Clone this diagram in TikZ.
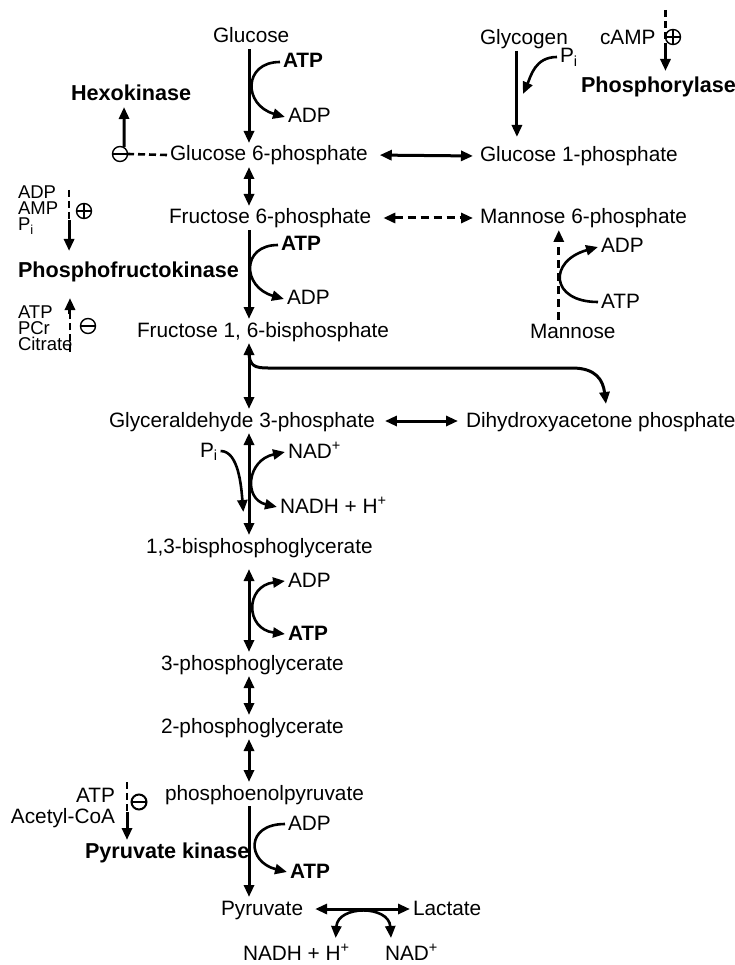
\documentclass[tikz,border=0pt]{standalone}
\usepackage{fontspec}
\setmainfont{Liberation Sans}
\usetikzlibrary{arrows.meta,calc}

\tikzset{
  lbl/.style={inner sep=0pt,outer sep=3pt,text height=15pt,text depth=3pt,
    anchor=base west,font=\fontsize{20.8}{24}\selectfont},
  lblb/.style={lbl,font=\fontsize{20.8}{24}\selectfont\bfseries},
  stk/.style={inner sep=0pt,outer sep=0pt,anchor=north west,align=left,
    font=\fontsize{18.5}{16}\selectfont},
  enz/.style={lbl,font=\fontsize{21.6}{24}\selectfont\bfseries},
  rxn/.style={line width=3pt},
  side/.style={line width=2.6pt},
  reg/.style={line width=2.6pt,dash pattern=on 7pt off 4pt},
  inhib/.style={circle,draw,line width=1.4pt,minimum size=15pt,inner sep=0pt,
    path picture={\draw[line width=1.4pt] (path picture bounding box.west) -- (path picture bounding box.east);}},
  activ/.style={circle,draw,line width=1.4pt,minimum size=15pt,inner sep=0pt,
    path picture={\draw[line width=1.4pt] (path picture bounding box.west) -- (path picture bounding box.east)
      (path picture bounding box.north) -- (path picture bounding box.south);}}
}

\begin{document}
\begin{tikzpicture}[x=1pt,y=-1pt,>={Triangle[length=12pt,width=10pt]}]
\useasboundingbox (0,0) rectangle (735,965);
\coordinate (ax) at (249,0);
% main pathway
\node[lbl] (glc) at (210,43) {Glucose};
\node[lbl] (g6p) at (167,161) {Glucose 6-phosphate};
\node[lbl] (f6p) at (166,224) {Fructose 6-phosphate};
\node[lbl] (f16) at (134,337) {Fructose 1, 6-bisphosphate};
\node[lbl] (g3p) at (106,427) {Glyceraldehyde 3-phosphate};
\node[lbl] (bpg) at (143,553) {1,3-bisphosphoglycerate};
\node[lbl] (pg3) at (158,670) {3-phosphoglycerate};
\node[lbl] (pg2) at (158,733) {2-phosphoglycerate};
\node[lbl] (pep) at (162,800) {phosphoenolpyruvate};
\node[lbl] (pyr) at (218,915) {Pyruvate};
% side branches
\node[lbl] (glyc) at (477,45) {Glycogen};
\node[lbl] (g1p) at (477,162) {Glucose 1-phosphate};
\node[lbl] (m6p) at (477,224) {Mannose 6-phosphate};
\node[lbl] (man) at (527,338) {Mannose};
\node[lbl] (dhap) at (463,427) {Dihydroxyacetone phosphate};
\node[lbl] (lac) at (410,915) {Lactate};
% cofactors
\node[lblb] (atp1) at (280,68) {ATP};
\node[lbl] (adp1) at (285,123) {ADP};
\node[lbl] (pi1) at (557,63) {P\textsubscript{i}};
\node[lblb] (atp2) at (278,251) {ATP};
\node[lbl] (adp2) at (284,305) {ADP};
\node[lbl] (adpm) at (598,253) {ADP};
\node[lbl] (atpm) at (598,308) {ATP};
\node[lbl] (pi2) at (197,457) {P\textsubscript{i}};
\node[lbl] (nad1) at (285,458) {NAD\textsuperscript{+}};
\node[lbl] (nadh1) at (277,513) {NADH + H\textsuperscript{+}};
\node[lbl] (adp3) at (285,587) {ADP};
\node[lblb] (atp3) at (285,640) {ATP};
\node[lbl] (adp4) at (285,830) {ADP};
\node[lblb] (atp4) at (287,878) {ATP};
\node[lbl] (nadh2) at (240,960) {NADH + H\textsuperscript{+}};
\node[lbl] (nad2) at (382,960) {NAD\textsuperscript{+}};
% enzymes and effectors
\node[enz] (hk) at (68,101) {Hexokinase};
\node[enz] (phos) at (578,93) {Phosphorylase};
\node[enz] (pfk) at (15,278) {Phosphofructokinase};
\node[enz] (pk) at (82,858) {Pyruvate kinase};
\node[lbl] (camp) at (597,45) {cAMP};
\node[stk] (pfkup) at (18,186) {ADP\\AMP\\P\textsubscript{i}};
\node[stk] (pfkdn) at (18,306) {ATP\\PCr\\Citrate};
\node[lbl,anchor=base east] (atpC) at (118,802) {ATP};
\node[lbl,anchor=base east] (acoa) at (118,823) {Acetyl-CoA};
\node[inhib] (hkneg) at (120,154) {};
\node[activ] (campplus) at (673,37) {};
\node[activ] (pfkplus) at (84,211) {};
\node[inhib] (pfkneg) at (88,326) {};
\node[inhib,line width=2pt] (pkneg) at (139,802) {};

% main arrows
\draw[rxn,->] (glc.south -| ax) -- (g6p.north -| ax);
\draw[rxn,<->] (g6p.south -| ax) -- (f6p.north -| ax);
\draw[rxn,->] (f6p.south -| ax) -- (f16.north -| ax);
\draw[rxn,<->] (f16.south -| ax) -- (g3p.north -| ax);
\draw[rxn,<->] (g3p.south -| ax) -- (bpg.north -| ax);
\draw[rxn,<->,shorten <=10pt] (bpg.south -| ax) -- (pg3.north -| ax);
\draw[rxn,<->] (pg3.south -| ax) -- (pg2.north -| ax);
\draw[rxn,<->] (pg2.south -| ax) -- (pep.north -| ax);
\draw[rxn,->] (pep.south -| ax) -- (pyr.north -| ax);
% side arrows
\coordinate (gx) at ($(glyc.south)+(-7,0)$);
\draw[rxn,->,shorten >=7pt] (gx) -- (g1p.north -| gx);
\draw[rxn,<->,shorten <=9pt,shorten >=4pt] (g6p.east) -- (g1p.west);
\draw[rxn,<->,dash pattern=on 8pt off 5pt,shorten <=9pt,shorten >=4pt] (f6p.east) -- (m6p.west);
\draw[rxn,<->,shorten <=7pt,shorten >=5pt] (g3p.east) -- (dhap.west);
\draw[rxn,<->,shorten <=9pt] (pyr.east) -- (lac.west);
\coordinate (mx) at ($(man.north)+(-14,0)$);
\draw[rxn,->,dash pattern=on 8pt off 5pt] (mx) -- (m6p.south -| mx);
\coordinate (brA) at ($(f16.south -| ax)+(0,9)$);
\coordinate (brD) at ($(dhap.north west)+(143,-5)$);
\draw[rxn,->] (brA) .. controls +(0,14) and (255,368) .. (268,368) -- (572,368)
  .. controls (596,368) and (603,380) .. (brD);

% cofactor curves
\draw[side,->] (atp1.west) .. controls +(-37,0) and +(-42,-12) .. (adp1.west);
\draw[side,->] (atp2.west) .. controls +(-37,0) and +(-42,-12) .. (adp2.west);
\draw[side,->] (atpm.west) .. controls +(-48,0) and +(-50,14) .. (adpm.west);
\coordinate (pi1end) at ($(glyc.south)+(-1,43)$);
\draw[side,->] (pi1.west) .. controls +(-22,0) and +(8,-18) .. (pi1end);
\coordinate (pi2end) at ($(bpg.north)+(-16,-23)$);
\draw[side,->] (pi2.east) .. controls +(18,0) and +(-2,-25) .. (pi2end);
\draw[side,<->] (nad1.west) .. controls +(-38,8) and +(-34,-8) .. (nadh1.west);
\draw[side,<->] (adp3.west) .. controls +(-40,5) and +(-40,-5) .. (adp3.west |- atp3.west);
\draw[side,->] (adp4.west) .. controls +(-40,0) and +(-40,-10) .. (atp4.west);
\coordinate (arcL) at ($(nadh2.north east)+(-17,-4)$);
\coordinate (arcR) at ($(nad2.north west)+(9,-4)$);
\draw[side,<->] (arcL) .. controls +(2,-33) and +(-2,-33) .. (arcR);

% regulation
\draw[reg] (g6p.west) -- (hkneg.east);
\draw[rxn,->] (hkneg.60) -- ($(hk.south)+(-7,0)$);
\coordinate (campA) at ($(camp.east)+(7,-29)$);
\coordinate (campB) at ($(camp.east)+(7,8)$);
\draw[reg] (campA) -- (campB);
\draw[rxn,->,shorten >=4pt] (campB) -- (phos.north -| campB);
\coordinate (pfkA) at ($(pfkup.north east)+(11,4)$);
\coordinate (pfkB) at ($(pfkA)+(0,30)$);
\draw[reg] (pfkA) -- (pfkB);
\draw[rxn,->,shorten >=9pt] (pfkB) -- (pfk.north -| pfkB);
\coordinate (pfkC) at ($(pfkdn.north east)+(-2.5,8)$);
\coordinate (pfkD) at ($(pfkC)+(0,38)$);
\draw[reg] (pfkD) -- (pfkC);
\draw[rxn,->,shorten >=14pt] (pfkC) -- (pfk.south -| pfkC);
\coordinate (pkA) at ($(atpC.east)+(9,-14)$);
\coordinate (pkB) at ($(pkA)+(0,30)$);
\draw[reg] (pkA) -- (pkB);
\draw[rxn,->] (pkB) -- (pk.north -| pkB);
\end{tikzpicture}
\end{document}
